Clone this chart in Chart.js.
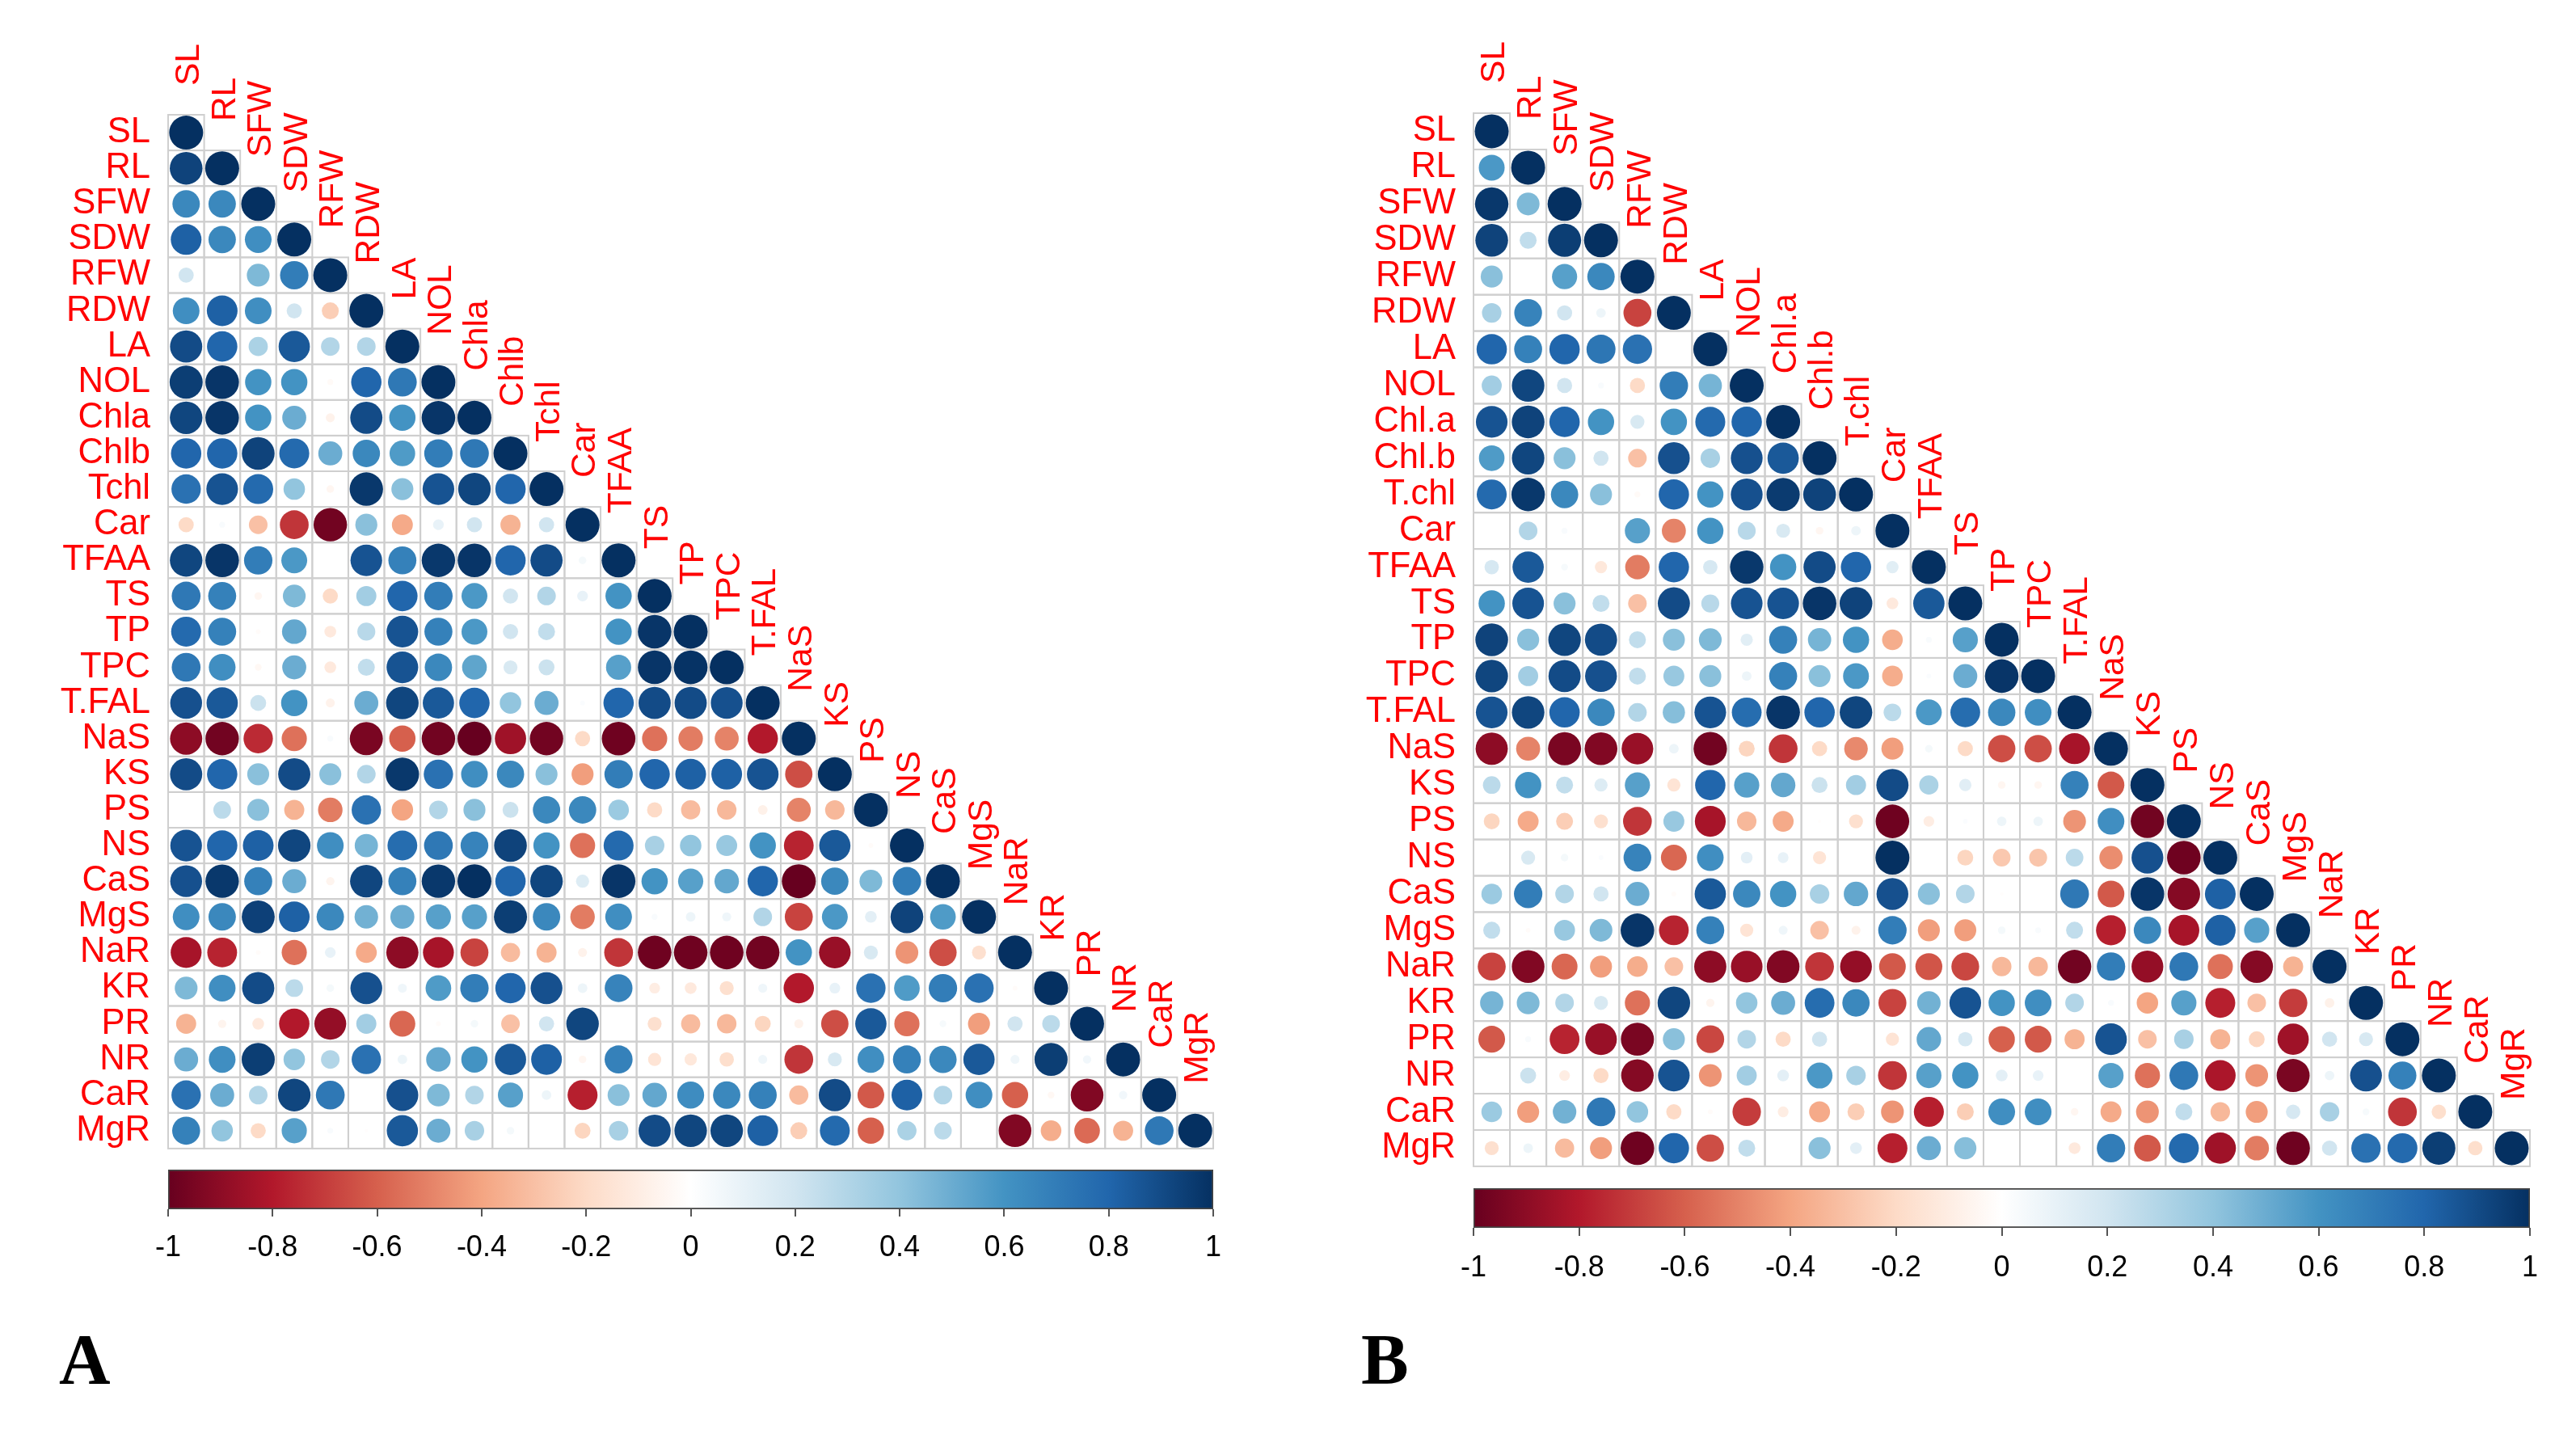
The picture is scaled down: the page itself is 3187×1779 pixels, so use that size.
<!DOCTYPE html>
<html><head><meta charset="utf-8">
<script src="https://cdn.jsdelivr.net/npm/chart.js@4"></script>
<style>
html,body{margin:0;padding:0;background:#fff;width:3187px;height:1779px;overflow:hidden}
canvas{position:absolute;display:block;filter:blur(0.6px)}
.tag{position:absolute;font:bold 88px "Liberation Serif",serif;color:#000;line-height:1}
</style></head><body>
<canvas id="mainA" style="left:0;top:0"></canvas>
<canvas id="barA" style="left:100px;top:1430px"></canvas>
<canvas id="mainB" style="left:1600px;top:0"></canvas>
<canvas id="barB" style="left:1700px;top:1450px"></canvas>
<div class="tag" style="left:73px;top:1638px">A</div>
<div class="tag" style="left:1684px;top:1638px">B</div>
<script>
const labelsA=['SL','RL','SFW','SDW','RFW','RDW','LA','NOL','Chla','Chlb','Tchl','Car','TFAA','TS','TP','TPC','T.FAL','NaS','KS','PS','NS','CaS','MgS','NaR','KR','PR','NR','CaR','MgR'];
const labelsB=['SL','RL','SFW','SDW','RFW','RDW','LA','NOL','Chl.a','Chl.b','T.chl','Car','TFAA','TS','TP','TPC','T.FAL','NaS','KS','PS','NS','CaS','MgS','NaR','KR','PR','NR','CaR','MgR'];
const scaleTicks=[-1,-0.8,-0.6,-0.4,-0.2,0,0.2,0.4,0.6,0.8,1];
const palette=['#67001F','#B2182B','#D6604D','#F4A582','#FDDBC7','#FFFFFF','#D1E5F0','#92C5DE','#4393C3','#2166AC','#053061'];

// Panel A, lower triangle, one array per row
const a_SL=[1];
const a_RL=[.93,1];
const a_SFW=[.65,.65,1];
const a_SDW=[.82,.65,.62,1];
const a_RFW=[.2,0,.45,.7,1];
const a_RDW=[.62,.82,.62,.2,-.25,1];
const a_LA=[.9,.8,.32,.85,.3,.3,1];
const a_NOL=[.95,.98,.6,.6,-.03,.8,.72,1];
const a_Chla=[.92,.98,.6,.5,-.07,.9,.6,.98,1];
const a_Chlb=[.8,.8,.93,.78,.5,.65,.57,.7,.72,1];
const a_Tchl=[.75,.87,.78,.4,-.05,.97,.42,.87,.92,.8,1];
const a_Car=[-.2,.03,-.3,-.72,-.97,.42,-.38,.1,.2,-.35,.2,1];
const a_TFAA=[.92,.98,.7,.58,0,.87,.68,.97,.98,.8,.9,.05,1];
const a_TS=[.72,.68,-.05,.45,-.2,.35,.8,.7,.58,.2,.3,.1,.6,1];
const a_TP=[.78,.68,-.02,.52,-.12,.28,.87,.68,.58,.2,.25,0,.6,.98,1];
const a_TPC=[.72,.62,-.04,.5,-.12,.25,.87,.65,.53,.17,.22,0,.55,.98,.99,1];
const a_TFAL=[.88,.85,.22,.6,-.07,.5,.92,.85,.8,.4,.5,.02,.8,.9,.9,.88,1];
const a_NaS=[-.9,-.97,-.75,-.55,.03,-.95,-.6,-.97,-1,-.85,-.97,-.2,-.98,-.55,-.52,-.5,-.8,1];
const a_KS=[.9,.8,.42,.9,.42,.3,.97,.75,.62,.65,.42,-.42,.7,.8,.82,.82,.87,-.65,1];
const a_PS=[0,.27,.42,-.35,-.52,.75,-.4,.3,.42,.22,.65,.65,.37,-.2,-.32,-.33,-.08,-.5,-.33,1];
const a_NS=[.87,.8,.82,.92,.62,.47,.77,.72,.67,.93,.6,-.55,.78,.33,.4,.38,.6,-.77,.85,-.02,1];
const a_CaS=[.88,.97,.68,.5,-.06,.92,.68,.97,1,.8,.92,.15,.98,.6,.55,.52,.8,-1,.65,.45,.7,1];
const a_MgS=[.62,.65,.94,.82,.65,.48,.5,.55,.55,.95,.65,-.52,.62,.03,.08,.07,.3,-.68,.58,.12,.93,.57,1];
const a_NaR=[-.83,-.77,-.02,-.55,.1,-.38,-.9,-.83,-.68,-.32,-.35,-.07,-.72,-.98,-.98,-.98,-.97,.6,-.87,.17,-.45,-.65,-.17,1];
const a_KR=[.45,.62,.9,.27,.05,.88,.07,.57,.7,.8,.88,.08,.67,-.1,-.12,-.17,.07,-.8,.1,.75,.57,.7,.75,-.02,1];
const a_PR=[-.35,-.06,-.12,-.8,-.88,.35,-.58,-.02,.05,-.3,.2,.92,0,-.17,-.32,-.33,-.22,-.07,-.65,.85,-.55,.04,-.42,.2,.27,1];
const a_NR=[.5,.62,.95,.4,.3,.75,.08,.52,.6,.85,.82,-.05,.68,-.15,-.13,-.18,.07,-.72,.17,.62,.68,.65,.85,.07,.95,.06,1];
const a_CaR=[.75,.5,.3,.92,.72,0,.88,.45,.3,.55,.08,-.78,.42,.52,.63,.65,.68,-.32,.9,-.62,.82,.3,.62,-.6,-.04,-.93,.06,1];
const a_MgR=[.68,.4,-.2,.55,.03,-.01,.85,.5,.33,.05,0,-.22,.33,.9,.92,.92,.82,-.25,.78,-.6,.32,.27,0,-.93,-.37,-.57,-.35,.72,1];
const rowsA=[a_SL,a_RL,a_SFW,a_SDW,a_RFW,a_RDW,a_LA,a_NOL,a_Chla,a_Chlb,a_Tchl,a_Car,a_TFAA,a_TS,a_TP,a_TPC,a_TFAL,a_NaS,a_KS,a_PS,a_NS,a_CaS,a_MgS,a_NaR,a_KR,a_PR,a_NR,a_CaR,a_MgR];

// Panel B, lower triangle, one array per row
const b_SL=[1];
const b_RL=[.58,1];
const b_SFW=[.97,.45,1];
const b_SDW=[.93,.25,.95,1];
const b_RFW=[.42,0,.55,.65,1];
const b_RDW=[.33,.67,.2,.08,-.68,1];
const b_LA=[.8,.68,.8,.73,.75,0,1];
const b_NOL=[.35,.92,.2,.03,-.2,.7,.47,1];
const b_Chla=[.87,.93,.8,.6,.17,.6,.78,.8,1];
const b_Chlb=[.57,.92,.42,.2,-.3,.88,.33,.88,.85,1];
const b_Tchl=[.78,.97,.65,.42,-.03,.8,.6,.88,.96,.93,1];
const b_Car=[0,.3,.03,0,.55,-.5,.6,.28,.17,-.05,.08,1];
const b_TFAA=[.18,.85,.04,-.13,-.52,.8,.18,.97,.6,.9,.8,.13,1];
const b_TS=[.6,.87,.42,.25,-.3,.9,.28,.87,.87,.98,.93,-.12,.85,1];
const b_TP=[.93,.42,.92,.9,.25,.42,.45,.13,.68,.47,.6,-.37,.03,.55,1];
const b_TPC=[.92,.35,.9,.88,.25,.38,.42,.08,.68,.42,.58,-.37,.02,.5,.98,1];
const b_TFAL=[.87,.92,.8,.65,.3,.43,.87,.77,.98,.8,.92,.27,.58,.77,.65,.62,1];
const b_NaS=[-.9,-.5,-.95,-.93,-.87,.08,-.97,-.22,-.72,-.2,-.48,-.42,.05,-.2,-.65,-.65,-.83,1];
const b_KS=[.27,.6,.25,.15,.55,-.15,.8,.55,.52,.22,.35,.9,.32,.13,-.05,-.05,.68,-.62,1];
const b_PS=[-.22,-.38,-.25,-.17,-.72,.38,-.83,-.33,-.38,-.01,-.17,-.98,-.1,.02,.08,.08,-.45,.62,-.97,1];
const b_NS=[0,.17,.05,.02,.67,-.58,.62,.12,.1,-.15,0,1,0,-.22,-.27,-.28,.27,-.47,.88,-.98,1];
const b_CaS=[.37,.7,.3,.2,.5,-.02,.85,.65,.6,.33,.52,.88,.42,.3,-.01,0,.72,-.62,.98,-.92,.82,1];
const b_MgS=[.25,-.02,.38,.45,.98,-.77,.68,-.15,.07,-.3,-.07,.7,-.42,-.42,.05,.03,.25,-.78,.65,-.83,.82,.55,1];
const b_NaR=[-.68,-.93,-.58,-.42,-.37,-.3,-.9,-.87,-.93,-.72,-.88,-.62,-.63,-.67,-.33,-.33,-.97,.7,-.88,.72,-.55,-.92,-.35,1];
const b_KR=[.47,.45,.3,.17,-.55,.92,-.06,.4,.5,.77,.65,-.68,.48,.87,.6,.62,.3,.03,-.4,.55,-.78,-.3,-.7,-.08,1];
const b_PR=[-.62,.03,-.77,-.87,-.95,.42,-.67,.3,-.2,.2,0,-.15,.52,.18,-.6,-.62,-.35,.87,-.3,.33,-.35,-.22,-.85,.2,.17,1];
const b_NR=[0,.22,-.1,-.2,-.92,.87,-.45,.35,.12,.58,.33,-.72,.55,.6,.12,.1,0,.55,-.55,.72,-.82,-.45,-.95,.08,.88,.68,1];
const b_CaR=[.37,-.42,.48,.72,.4,-.2,-.02,-.7,-.1,-.38,-.25,-.45,-.78,-.25,.62,.62,-.05,-.38,-.45,.25,-.33,-.42,.18,.33,.04,-.72,-.18,1];
const b_MgR=[-.17,.08,-.32,-.42,-.98,.8,-.65,.25,0,.42,.12,-.78,.5,.43,0,0,-.12,.7,-.62,.78,-.85,-.52,-.98,.2,.75,.78,.95,-.18,1];
const rowsB=[b_SL,b_RL,b_SFW,b_SDW,b_RFW,b_RDW,b_LA,b_NOL,b_Chla,b_Chlb,b_Tchl,b_Car,b_TFAA,b_TS,b_TP,b_TPC,b_TFAL,b_NaS,b_KS,b_PS,b_NS,b_CaS,b_MgS,b_NaR,b_KR,b_PR,b_NR,b_CaR,b_MgR];

function hex(c){return [1,3,5].map(i=>parseInt(c.slice(i,i+2),16));}
function colorFor(v){
  const t=(Math.max(-1,Math.min(1,v))+1)*5, i=Math.min(9,Math.floor(t)), f=t-i;
  const a=hex(palette[i]), b=hex(palette[i+1]);
  return 'rgb('+a.map((x,k)=>Math.round(x+(b[k]-x)*f)).join(',')+')';
}
const triangle={
  id:'triangle',
  beforeDatasetsDraw(chart,args,opts){
    const {ctx,scales:{x,y}}=chart, n=opts.names.length;
    const w=x.width/n,h=y.height/n;
    ctx.save();ctx.strokeStyle='#cfcfcf';ctx.lineWidth=2;
    for(let r=0;r<n;r++)for(let c=0;c<=r;c++){
      ctx.strokeRect(x.getPixelForValue(c)-w/2,y.getPixelForValue(r)-h/2,w,h);
    }
    ctx.restore();
  },
  afterDatasetsDraw(chart,args,opts){
    const {ctx,scales:{x,y}}=chart,h=y.height/opts.names.length;
    ctx.save();ctx.fillStyle='#ff0000';ctx.font='42.5px "Liberation Sans"';ctx.textAlign='left';ctx.textBaseline='middle';
    opts.names.forEach((name,c)=>{
      ctx.save();
      ctx.translate(x.getPixelForValue(c)+4,y.getPixelForValue(c)-h/2-opts.gap);
      ctx.rotate(-Math.PI/2);
      ctx.fillText(name,0,0);
      ctx.restore();
    });
    ctx.restore();
  }
};
function mainChart(id,w,h,names,rows,pad,axisW,labelGap,colGap){
  const el=document.getElementById(id);el.width=w;el.height=h;el.style.width=w+'px';el.style.height=h+'px';
  const pts=[];
  rows.forEach((row,r)=>row.forEach((v,c)=>pts.push({x:names[c],y:names[r],v})));
  return new Chart(el,{type:'scatter',
    data:{datasets:[{data:pts,
      pointBackgroundColor:c=>colorFor(c.raw.v),
      pointBorderWidth:0,
      pointRadius:c=>21*Math.sqrt(Math.abs(c.raw.v))}]},
    options:{responsive:false,animation:false,events:[],
      layout:{padding:pad},
      plugins:{legend:{display:false},tooltip:{enabled:false},triangle:{names,gap:colGap}},
      scales:{
        x:{type:'category',labels:names,offset:true,display:false},
        y:{type:'category',labels:names,offset:true,
           grid:{display:false,drawTicks:false},border:{display:false},
           afterFit:s=>{s.width=axisW;},
           ticks:{autoSkip:false,color:'#ff0000',padding:labelGap,font:{family:'Liberation Sans',size:43.5}}}
      }},
    plugins:[triangle]});
}
function barChart(id,w,h,pad,tickLen,labelPad){
  const el=document.getElementById(id);el.width=w;el.height=h;el.style.width=w+'px';el.style.height=h+'px';
  return new Chart(el,{type:'bar',
    data:{labels:['r'],datasets:[{data:[[scaleTicks[0],scaleTicks[scaleTicks.length-1]]],
      barPercentage:1,categoryPercentage:1,
      borderWidth:2,borderColor:'#444',borderSkipped:false,
      backgroundColor:c=>{
        const a=c.chart.chartArea;if(!a)return '#fff';
        const g=c.chart.ctx.createLinearGradient(a.left,0,a.right,0);
        palette.forEach((p,i)=>g.addColorStop(i/(palette.length-1),p));
        return g;
      }}]},
    options:{indexAxis:'y',responsive:false,animation:false,events:[],
      layout:{padding:pad},
      plugins:{legend:{display:false},tooltip:{enabled:false}},
      scales:{
        y:{display:false},
        x:{type:'linear',min:-1,max:1,
           afterBuildTicks:s=>{s.ticks=scaleTicks.map(value=>({value}));},
           afterFit:s=>{s.height=70;},
           grid:{display:true,drawOnChartArea:false,drawTicks:true,tickLength:tickLen,color:'#555',lineWidth:2},
           border:{display:false},
           ticks:{color:'#000',padding:labelPad,maxRotation:0,autoSkip:false,font:{family:'Liberation Sans',size:36},
                  callback:v=>String(+(+v).toFixed(1))}}
      }}});
}
mainChart('mainA',1560,1469,labelsA,rowsA,{top:142,right:59,bottom:48,left:0},208,22,36);
barChart('barA',1460,170,{top:17,right:59,bottom:34,left:108},9,17);
mainChart('mainB',1587,1491,labelsB,rowsB,{top:140,right:57,bottom:48,left:0},223,22,37);
barChart('barB',1487,170,{top:20,right:57,bottom:31,left:123},10,18);
</script>
</body></html>
